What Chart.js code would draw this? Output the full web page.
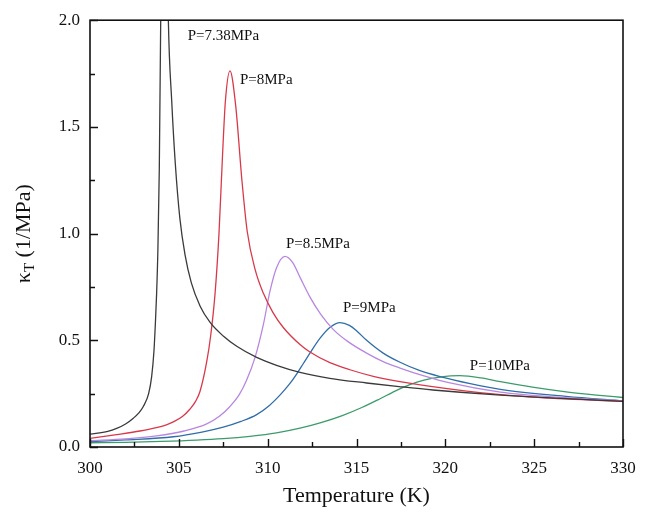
<!DOCTYPE html>
<html><head><meta charset="utf-8">
<script src="https://cdn.jsdelivr.net/npm/chart.js@4/dist/chart.umd.min.js"></script>
<style>html,body{margin:0;padding:0;background:#fff}#wrap{width:651px;height:513px;position:relative}</style>
</head><body><div id="wrap"><canvas id="c" width="651" height="513"></canvas></div>
<script>
// Series: temperature (K) and kappa_T (1/MPa)
const T_738 = [300,301,301.5,302,302.44,302.75,303,303.3,303.47,303.6,303.68,303.75,303.82,303.9,303.98,304.2,304.41,304.6,304.8,305.06,305.35,305.7,306.2,306.75,307.5,308.26,309.38,310.5,311.82,313.5,315.57,317.4,319.3,323.1,326.5,330];
const K_738 = [0.06,0.073,0.087,0.108,0.135,0.16,0.19,0.25,0.33,0.45,0.58,0.72,0.92,1.3,2.0,3.2,2.0,1.62,1.33,1.07,0.9,0.77,0.66,0.585,0.52,0.472,0.42,0.383,0.35,0.322,0.3,0.283,0.267,0.243,0.228,0.214];

const T_8 = [300,301.5,302.81,303.8,304.3,304.69,305.2,305.63,305.95,306.19,306.57,306.79,307.04,307.26,307.45,307.62,307.88,308.2,308.55,308.85,309.3,309.76,310.3,310.88,311.82,312.38,313.5,314.63,316,317.45,321.2,324.9,330];
const K_8 = [0.04,0.058,0.075,0.092,0.104,0.118,0.143,0.178,0.215,0.26,0.40,0.52,0.72,1.0,1.35,1.62,1.763,1.6,1.25,1.01,0.83,0.72,0.63,0.56,0.48,0.445,0.395,0.362,0.33,0.306,0.262,0.234,0.214];

const T_85 = [300,302,303.75,305.3,306.57,307.3,307.88,308.4,308.8,309.29,309.76,310.13,310.5,310.97,311.4,311.85,312.4,313.0,313.7,314.5,315.57,316.5,317.45,318.8,320.26,323.1,326.5,330];
const K_85 = [0.03,0.038,0.052,0.075,0.108,0.145,0.19,0.245,0.31,0.42,0.575,0.73,0.84,0.893,0.865,0.79,0.70,0.62,0.55,0.495,0.44,0.40,0.37,0.333,0.30,0.257,0.232,0.216];

const T_9 = [300,302,304.69,306.3,307.5,308.5,309.38,310.1,310.69,311.2,311.63,312,312.38,312.95,313.5,314.07,314.6,315,315.57,316.5,317.45,318.5,319.7,321.4,323.1,326.8,330];
const K_9 = [0.025,0.033,0.048,0.07,0.093,0.12,0.152,0.195,0.243,0.292,0.342,0.39,0.44,0.51,0.56,0.583,0.57,0.545,0.5,0.44,0.397,0.36,0.33,0.297,0.27,0.237,0.216];

const T_10 = [300,302,304,306,307.5,309,310.5,311.82,313,314.2,315.3,316.3,317.2,318,318.8,319.7,320.8,322,323.1,325,326.8,328.5,330];
const K_10 = [0.02,0.022,0.026,0.032,0.039,0.05,0.066,0.088,0.114,0.147,0.185,0.225,0.263,0.292,0.313,0.327,0.334,0.324,0.306,0.279,0.258,0.243,0.232];

const X_TICKS = [300,305,310,315,320,325,330];
const Y_TICKS = [0.0,0.5,1.0,1.5,2.0];

// curve labels: text and data-space anchor (left, middle)
const LABELS = ['P=7.38MPa','P=8MPa','P=8.5MPa','P=9MPa','P=10MPa'];
const LABEL_T = [305.5,308.44,311.03,314.24,321.38];
const LABEL_K = [1.926,1.72,0.953,0.651,0.377];

const COLORS = ['#3a3a3a','#d8394a','#b887e0','#2f6ea8','#3c9b6b'];

function pts(t,k){return t.map((x,i)=>({x:x,y:k[i]}));}
const series = [[T_738,K_738],[T_8,K_8],[T_85,K_85],[T_9,K_9],[T_10,K_10]];

const serif = '"Liberation Serif","DejaVu Serif",serif';

const frame = {
  id:'frame',
  afterDatasetsDraw(chart){
    const ctx=chart.ctx, a=chart.chartArea, xs=chart.scales.x, ys=chart.scales.y;
    ctx.save();
    ctx.strokeStyle='#111'; ctx.lineWidth=1.6;
    ctx.strokeRect(a.left,a.top,a.right-a.left,a.bottom-a.top);
    ctx.lineWidth=1.4;
    ctx.beginPath();
    for(let v=300; v<=330; v+=2.5){
      const x=Math.round(xs.getPixelForValue(v))+0.5;
      const len=(v%5===0)?8:5;
      ctx.moveTo(x,a.bottom); ctx.lineTo(x,a.bottom-len);
    }
    for(let v=0; v<=2.0001; v+=0.25){
      const y=Math.round(ys.getPixelForValue(v))+0.5;
      const len=(Math.abs(v*2-Math.round(v*2))<1e-6)?8:5;
      ctx.moveTo(a.left,y); ctx.lineTo(a.left+len,y);
    }
    ctx.stroke();
    // curve labels
    ctx.fillStyle='#111'; ctx.font='15px '+serif; ctx.textBaseline='middle'; ctx.textAlign='left';
    LABELS.forEach((s,i)=>{ctx.fillText(s, xs.getPixelForValue(LABEL_T[i]), ys.getPixelForValue(LABEL_K[i]));});
    // y axis title with subscript
    ctx.translate(22,(a.top+a.bottom)/2);
    ctx.rotate(-Math.PI/2);
    ctx.textBaseline='alphabetic';
    const big='22px '+serif, small='15px '+serif;
    const p1='\u03BA', p3=' (1/MPa)';
    ctx.font=small; const wT=ctx.measureText('T').width;
    ctx.font=big;
    const w1=ctx.measureText(p1).width, w3=ctx.measureText(p3).width;
    let x0=-(w1+wT+w3)/2;
    ctx.fillText(p1,x0,8); x0+=w1;
    ctx.font=small; ctx.fillText('T',x0,12); x0+=wT;
    ctx.font=big; ctx.fillText(p3,x0,8);
    ctx.restore();
  }
};

new Chart(document.getElementById('c'),{
  type:'scatter',
  data:{datasets: series.map((s,i)=>({
    label:LABELS[i], data:pts(s[0],s[1]), showLine:true, borderColor:COLORS[i], backgroundColor:COLORS[i],
    borderWidth:1.3, pointRadius:0, cubicInterpolationMode:'monotone', clip:0
  }))},
  options:{
    responsive:false, animation:false, devicePixelRatio:1,
    layout:{padding:{top:17,right:28,left:0,bottom:0}},
    plugins:{legend:{display:false},tooltip:{enabled:false}},
    scales:{
      x:{type:'linear',min:300,max:330,
        afterBuildTicks(s){s.ticks=X_TICKS.map(v=>({value:v}));},
        afterFit(s){s.height=66;},
        grid:{display:false,drawTicks:false},border:{display:false},
        ticks:{color:'#111',font:{family:serif,size:17},padding:11,callback:v=>String(v),maxRotation:0},
        title:{display:true,text:'Temperature (K)',color:'#111',font:{family:serif,size:22},padding:{top:6}}
      },
      y:{type:'linear',min:0,max:2,
        afterBuildTicks(s){s.ticks=Y_TICKS.map(v=>({value:v}));},
        afterFit(s){s.width=90;},
        grid:{display:false,drawTicks:false},border:{display:false},
        ticks:{color:'#111',font:{family:serif,size:17},padding:10,callback:v=>Number(v).toFixed(1)}
      }
    }
  },
  plugins:[frame]
});
</script></body></html>
